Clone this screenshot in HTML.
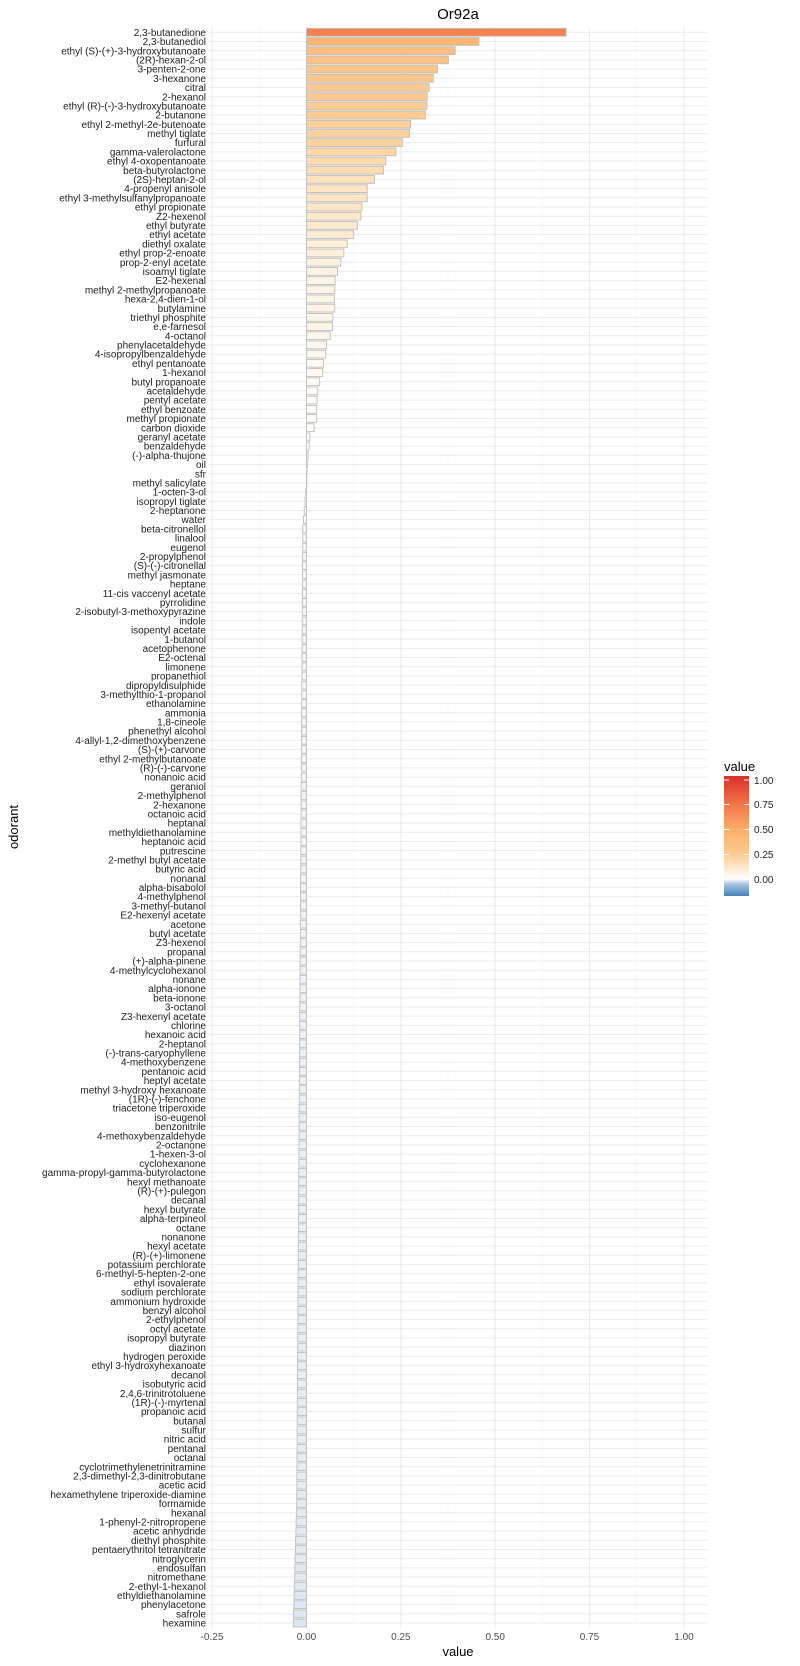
<!DOCTYPE html>
<html><head><meta charset="utf-8"><style>
html,body{margin:0;padding:0;background:#fff;}
svg{display:block;font-family:"Liberation Sans",sans-serif;}
#labels text{font-size:10px;fill:#222;text-anchor:end;}
</style></head><body>
<svg id="s" width="800" height="1666" viewBox="0 0 800 1666" xmlns="http://www.w3.org/2000/svg">
<defs><linearGradient id="lg" x1="0" y1="1" x2="0" y2="0">
<stop offset="0" stop-color="#4682B4"/>
<stop offset="0.1" stop-color="#A9C6DF"/>
<stop offset="0.1417" stop-color="#FFFFFF"/>
<stop offset="0.225" stop-color="#FEEBD3"/>
<stop offset="0.35" stop-color="#FDCB91"/>
<stop offset="0.558" stop-color="#FDAE6B"/>
<stop offset="0.767" stop-color="#F4744A"/>
<stop offset="1" stop-color="#D73027"/>
</linearGradient></defs>
<g id="grid"></g>
<g id="bars"></g>
<text x="458" y="19" font-size="15" text-anchor="middle" fill="#000">Or92a</text>
<g font-size="10" fill="#4d4d4d" text-anchor="middle">
<text x="212" y="1640">-0.25</text><text x="306.5" y="1640">0.00</text><text x="400.8" y="1640">0.25</text><text x="495.2" y="1640">0.50</text><text x="589.5" y="1640">0.75</text><text x="684" y="1640">1.00</text>
</g>
<text x="458" y="1656" font-size="13" text-anchor="middle" fill="#000">value</text>
<text transform="translate(18,827) rotate(-90)" font-size="13" text-anchor="middle" fill="#000">odorant</text>
<text x="724" y="771" font-size="13" fill="#000">value</text>
<rect x="724" y="776" width="25" height="120" fill="url(#lg)"/>
<g stroke="#fff" stroke-width="1">
<line x1="724" x2="729" y1="780" y2="780"/><line x1="744" x2="749" y1="780" y2="780"/>
<line x1="724" x2="729" y1="804.5" y2="804.5"/><line x1="744" x2="749" y1="804.5" y2="804.5"/>
<line x1="724" x2="729" y1="829.5" y2="829.5"/><line x1="744" x2="749" y1="829.5" y2="829.5"/>
<line x1="724" x2="729" y1="854.5" y2="854.5"/><line x1="744" x2="749" y1="854.5" y2="854.5"/>
<line x1="724" x2="729" y1="879" y2="879"/><line x1="744" x2="749" y1="879" y2="879"/>
</g>
<g font-size="10" fill="#222">
<text x="754" y="784">1.00</text><text x="754" y="808">0.75</text><text x="754" y="833">0.50</text><text x="754" y="858">0.25</text><text x="754" y="883">0.00</text>
</g>
<g id="labels">
<text>2,3-butanedione</text><text>2,3-butanediol</text><text>ethyl (S)-(+)-3-hydroxybutanoate</text><text>(2R)-hexan-2-ol</text><text>3-penten-2-one</text><text>3-hexanone</text><text>citral</text><text>2-hexanol</text><text>ethyl (R)-(-)-3-hydroxybutanoate</text><text>2-butanone</text><text>ethyl 2-methyl-2e-butenoate</text><text>methyl tiglate</text><text>furfural</text><text>gamma-valerolactone</text><text>ethyl 4-oxopentanoate</text><text>beta-butyrolactone</text><text>(2S)-heptan-2-ol</text><text>4-propenyl anisole</text><text>ethyl 3-methylsulfanylpropanoate</text><text>ethyl propionate</text><text>Z2-hexenol</text><text>ethyl butyrate</text><text>ethyl acetate</text><text>diethyl oxalate</text><text>ethyl prop-2-enoate</text><text>prop-2-enyl acetate</text><text>isoamyl tiglate</text><text>E2-hexenal</text><text>methyl 2-methylpropanoate</text><text>hexa-2,4-dien-1-ol</text><text>butylamine</text><text>triethyl phosphite</text><text>e,e-farnesol</text><text>4-octanol</text><text>phenylacetaldehyde</text><text>4-isopropylbenzaldehyde</text><text>ethyl pentanoate</text><text>1-hexanol</text><text>butyl propanoate</text><text>acetaldehyde</text><text>pentyl acetate</text><text>ethyl benzoate</text><text>methyl propionate</text><text>carbon dioxide</text><text>geranyl acetate</text><text>benzaldehyde</text><text>(-)-alpha-thujone</text><text>oil</text><text>sfr</text><text>methyl salicylate</text><text>1-octen-3-ol</text><text>isopropyl tiglate</text><text>2-heptanone</text><text>water</text><text>beta-citronellol</text><text>linalool</text><text>eugenol</text><text>2-propylphenol</text><text>(S)-(-)-citronellal</text><text>methyl jasmonate</text><text>heptane</text><text>11-cis vaccenyl acetate</text><text>pyrrolidine</text><text>2-isobutyl-3-methoxypyrazine</text><text>indole</text><text>isopentyl acetate</text><text>1-butanol</text><text>acetophenone</text><text>E2-octenal</text><text>limonene</text><text>propanethiol</text><text>dipropyldisulphide</text><text>3-methylthio-1-propanol</text><text>ethanolamine</text><text>ammonia</text><text>1,8-cineole</text><text>phenethyl alcohol</text><text>4-allyl-1,2-dimethoxybenzene</text><text>(S)-(+)-carvone</text><text>ethyl 2-methylbutanoate</text><text>(R)-(-)-carvone</text><text>nonanoic acid</text><text>geraniol</text><text>2-methylphenol</text><text>2-hexanone</text><text>octanoic acid</text><text>heptanal</text><text>methyldiethanolamine</text><text>heptanoic acid</text><text>putrescine</text><text>2-methyl butyl acetate</text><text>butyric acid</text><text>nonanal</text><text>alpha-bisabolol</text><text>4-methylphenol</text><text>3-methyl-butanol</text><text>E2-hexenyl acetate</text><text>acetone</text><text>butyl acetate</text><text>Z3-hexenol</text><text>propanal</text><text>(+)-alpha-pinene</text><text>4-methylcyclohexanol</text><text>nonane</text><text>alpha-ionone</text><text>beta-ionone</text><text>3-octanol</text><text>Z3-hexenyl acetate</text><text>chlorine</text><text>hexanoic acid</text><text>2-heptanol</text><text>(-)-trans-caryophyllene</text><text>4-methoxybenzene</text><text>pentanoic acid</text><text>heptyl acetate</text><text>methyl 3-hydroxy hexanoate</text><text>(1R)-(-)-fenchone</text><text>triacetone triperoxide</text><text>iso-eugenol</text><text>benzonitrile</text><text>4-methoxybenzaldehyde</text><text>2-octanone</text><text>1-hexen-3-ol</text><text>cyclohexanone</text><text>gamma-propyl-gamma-butyrolactone</text><text>hexyl methanoate</text><text>(R)-(+)-pulegon</text><text>decanal</text><text>hexyl butyrate</text><text>alpha-terpineol</text><text>octane</text><text>nonanone</text><text>hexyl acetate</text><text>(R)-(+)-limonene</text><text>potassium perchlorate</text><text>6-methyl-5-hepten-2-one</text><text>ethyl isovalerate</text><text>sodium perchlorate</text><text>ammonium hydroxide</text><text>benzyl alcohol</text><text>2-ethylphenol</text><text>octyl acetate</text><text>isopropyl butyrate</text><text>diazinon</text><text>hydrogen peroxide</text><text>ethyl 3-hydroxyhexanoate</text><text>decanol</text><text>isobutyric acid</text><text>2,4,6-trinitrotoluene</text><text>(1R)-(-)-myrtenal</text><text>propanoic acid</text><text>butanal</text><text>sulfur</text><text>nitric acid</text><text>pentanal</text><text>octanal</text><text>cyclotrimethylenetrinitramine</text><text>2,3-dimethyl-2,3-dinitrobutane</text><text>acetic acid</text><text>hexamethylene triperoxide-diamine</text><text>formamide</text><text>hexanal</text><text>1-phenyl-2-nitropropene</text><text>acetic anhydride</text><text>diethyl phosphite</text><text>pentaerythritol tetranitrate</text><text>nitroglycerin</text><text>endosulfan</text><text>nitromethane</text><text>2-ethyl-1-hexanol</text><text>ethyldiethanolamine</text><text>phenylacetone</text><text>safrole</text><text>hexamine</text>
</g>
</svg>
<script>
(function(){
var NS="http://www.w3.org/2000/svg";
var Y0=32.3, DY=9.195, X0=306.5, PX=377.3, L=209, R=707, T=27.5, B=1628;
var pos=[0.688,0.457,0.394,0.376,0.347,0.336,0.325,0.320,0.319,0.315,0.276,0.273,0.254,0.237,0.210,0.204,0.180,0.161,0.161,0.147,0.144,0.135,0.125,0.108,0.099,0.091,0.082,0.076,0.075,0.074,0.075,0.070,0.069,0.063,0.053,0.051,0.045,0.043,0.035,0.030,0.028,0.027,0.027,0.020,0.009,0.007,0.004,0.002,0.001,0.0003];
var n=174, vals=pos.slice();
for(var i=50;i<n;i++){var v;
 if(i<55) v=-0.002*(i-49);
 else if(i<=160) v=-0.010-(i-55)/(160-55)*0.016;
 else v=-0.026-(i-160)/(173-160)*0.009;
 vals.push(v);}
function g(el,a){var e=document.createElementNS(NS,el);for(var k in a)e.setAttribute(k,a[k]);return e;}
var grid=document.getElementById('grid');
for(var t=-0.375;t<=1.01;t+=0.25){var x=X0+t*PX;if(x>L&&x<R)grid.appendChild(g('line',{x1:x,x2:x,y1:T,y2:B,stroke:'#F5F5F5','stroke-width':0.6}));}
for(var t=-0.25;t<=1.01;t+=0.25){var x=X0+t*PX;grid.appendChild(g('line',{x1:x,x2:x,y1:T,y2:B,stroke:'#EBEBEB','stroke-width':1}));}
for(var i=0;i<n;i++){var y=Y0+i*DY;grid.appendChild(g('line',{x1:L,x2:R,y1:y,y2:y,stroke:'#EBEBEB','stroke-width':1}));}
function lerp(a,b,f){return a.map(function(c,j){return Math.round(c+(b[j]-c)*f);});}
var ps=[[0,[255,255,255]],[0.1,[254,240,220]],[0.25,[253,212,158]],[0.5,[253,174,107]],[0.75,[244,116,74]],[1,[215,48,39]]];
var ns=[[0,[255,255,255]],[0.02,[232,240,247]],[0.05,[205,222,238]],[0.17,[70,130,180]]];
function col(v){var s=v>=0?ps:ns,a=Math.abs(v);for(var j=1;j<s.length;j++){if(a<=s[j][0]){var f=(a-s[j-1][0])/(s[j][0]-s[j-1][0]);var c=lerp(s[j-1][1],s[j][1],f);return 'rgb('+c.join(',')+')';}}var c=s[s.length-1][1];return 'rgb('+c.join(',')+')';}
var bars=document.getElementById('bars');
for(var i=0;i<n;i++){var v=vals[i],y=Y0+i*DY,x1=X0,x2=X0+v*PX;var xa=Math.min(x1,x2),w=Math.abs(x2-x1);
 bars.appendChild(g('rect',{x:xa,y:y-3.9,width:Math.max(w,0.3),height:7.8,fill:col(v),stroke:'#BEBEBE','stroke-width':0.9}));}
var labs=document.getElementById('labels').getElementsByTagName('text');
for(var i=0;i<labs.length;i++){labs[i].setAttribute('x',206);labs[i].setAttribute('y',(Y0+i*DY+3.6).toFixed(2));}
})();
</script>
</body></html>
